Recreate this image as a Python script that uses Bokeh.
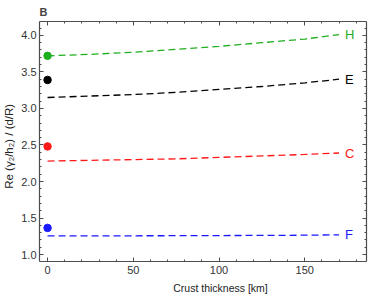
from bokeh.plotting import figure
from bokeh.models import LinearAxis, SingleIntervalTicker, Range1d, Title, NumeralTickFormatter, CustomJSTickFormatter
from bokeh.core.properties import value
from bokeh.embed import file_html
from bokeh.resources import INLINE

# data
thickness = [0, 25, 50, 75, 100, 125, 150, 170]
H_line = [3.72, 3.74, 3.77, 3.81, 3.85, 3.90, 3.95, 4.01]
E_line = [3.15, 3.17, 3.19, 3.22, 3.26, 3.30, 3.35, 3.40]
C_line = [2.28, 2.29, 2.30, 2.31, 2.33, 2.35, 2.37, 2.39]
F_line = [1.255, 1.255, 1.257, 1.258, 1.26, 1.262, 1.265, 1.27]
dot_x = [0, 0, 0, 0]
dot_y = [3.72, 3.39, 2.48, 1.365]
names = ["H", "E", "C", "F"]
colors = ["#1fae1f", "#000000", "#ff1a1a", "#1a1aff"]
label_x = 173.5

FONT = "Liberation Sans"
AX = "#4d4d4d"
NB = "\u00a0"

p = figure(width=374, height=296, output_backend="svg", toolbar_location=None,
           x_range=Range1d(-4.7, 186), y_range=Range1d(0.905, 4.19),
           x_axis_label=NB * 12 + "Crust thickness [km]",
           y_axis_label="Re (\u03b3\u2082/h\u2082) / (d/R)" + NB * 3,
           min_border_left=34, min_border_right=8, min_border_top=0, min_border_bottom=0)
p.grid.visible = False
p.outline_line_color = None
p.background_fill_color = "white"
p.border_fill_color = "white"

p.title = Title(text="B", align="left", text_font=FONT, text_font_size="11px",
                text_font_style="bold", offset=0, standoff=7)

p.xaxis.ticker = SingleIntervalTicker(interval=50, num_minor_ticks=5)
p.yaxis.ticker = SingleIntervalTicker(interval=0.5, num_minor_ticks=5)
p.yaxis.formatter = NumeralTickFormatter(format="0.0")

def style(ax, labels=True):
    ax.axis_line_color = AX
    ax.axis_line_width = 1.2
    ax.major_tick_line_color = AX
    ax.minor_tick_line_color = AX
    ax.major_tick_in = 4
    ax.major_tick_out = 0
    ax.minor_tick_in = 2
    ax.minor_tick_out = 0
    ax.major_label_text_font = FONT
    ax.major_label_text_font_size = "11px"
    ax.major_label_text_color = "#333333"
    ax.axis_label_text_font = FONT
    ax.axis_label_text_font_size = "10.5px"
    ax.axis_label_text_font_style = "normal"
    ax.axis_label_text_color = "#222222"
    if not labels:
        ax.formatter = CustomJSTickFormatter(code="return ''")
        ax.major_label_standoff = 0
        ax.axis_label_standoff = 0

for ax in p.xaxis + p.yaxis:
    style(ax)
p.yaxis.axis_label_text_font_size = "11.5px"
p.xaxis.major_label_standoff = 4
p.xaxis.axis_label_standoff = 5
p.yaxis.major_label_standoff = 3
p.yaxis.axis_label_standoff = 3

ra = LinearAxis(ticker=SingleIntervalTicker(interval=0.5, num_minor_ticks=5))
ta = LinearAxis(ticker=SingleIntervalTicker(interval=50, num_minor_ticks=5))
style(ra, False)
style(ta, False)
p.add_layout(ra, "right")
p.add_layout(ta, "above")

lines = [H_line, E_line, C_line, F_line]
for ys, c, n in zip(lines, colors, names):
    p.line(thickness, ys, line_color=c, line_width=1.3, line_dash="7 4")
    p.text([label_x], [ys[-1]], text=[n], text_color=c, text_font_size="13px",
           text_font=value(FONT), text_baseline="middle", text_align="left")

p.scatter(dot_x, dot_y, size=7.5, fill_color=colors, line_color=colors)

open("out.html", "w").write(file_html(p, INLINE))
